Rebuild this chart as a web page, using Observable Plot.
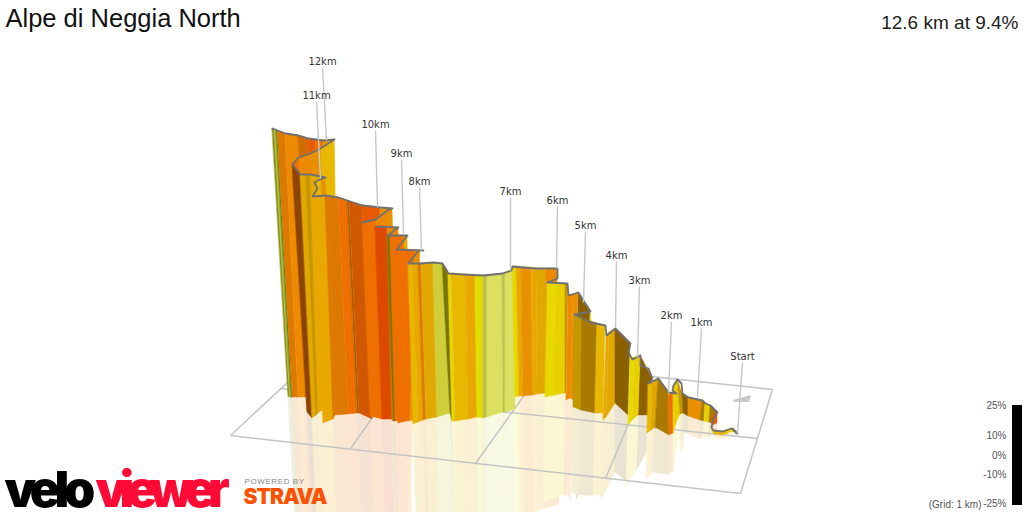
<!DOCTYPE html>
<html><head><meta charset="utf-8">
<style>html,body{margin:0;padding:0;background:#fff}svg{display:block}</style>
<script src="https://cdn.jsdelivr.net/npm/d3@7"></script>
<script src="https://cdn.jsdelivr.net/npm/@observablehq/plot@0.6"></script>
</head><body><div id="c"></div>
<script>
// Each station: top x, top y, base x, base y, gradient band to the next station
const farWall=[[272,128,288,396,"ol"],[274,129,289.5,397,"li"],[276,130,291,397,"gr"],[277,130,292,397,"o1"],[285,133,298,397,"o2"],[298,135,305,397,"o3"],[308,138,312,398,"o4"],[315,139,318,398,"o5"],[323,140,326,398,"o6"],[329,140,330,398,"y2"],[334,139,338,398]];
const foldWall=[[334,139,338,398,"y1"],[320,148,327,410,"o6"],[310,153,319,410,"o2"],[298,157,311,410,"o5"],[292,164,307,412]];
const backRun=[[362,205,372,416,"o4"],[380,207,385,418,"o6"],[392,208,398,418]];
const yellowRun=[[292,164,307,412,"br"],[300,174,312,418,"y3"],[306,174,316,415,"gd"],[310,174,318,413,"y6"],[316,176,322,410,"y1"],[321,176,330,412,"o6"],[325,177,333,412]];
const longRun=[[312,196,323,423,"y6"],[325,195,333,419,"o1"],[329,196,335,415,"o1"],[338,197,348,414,"o5"],[347,200,357,413,"am"],[349,201,359,413,"o8"],[362,205,372,419]];
const ridgeBack=[[375,219,382,419,"o2"],[387,210,392,419]];
const ridgeRun=[[362,222,370,416,"o5"],[375,219,382,419]];
const redRun2=[[375,226,382,419,"o7"],[387,226,392,419]];
const stepRun=[[387,227,392,420,"o2"],[398,227,404,421]];
const stepRun2=[[387,235,393,421,"ol2"],[390,235,395,421,"o5"],[404,235,407,421,"y6"],[407,235,410,421]];
const stepRun3=[[396,249,398,423,"o5"],[415,250,410,420,"o6"],[420,250,413,421]];
const plateau=[[408,263,413,424,"y1"],[413,263,418,422,"y6"],[418,263,423,420,"o1"],[421,263,426,419,"y3"],[433,262,437,417,"p1"],[442,263,450,413,"ol2"],[448,273,452,421,"y5"],[451,273,455,421,"y1"],[465,274,468,419,"y6"],[475,275,477,417,"y4"],[483,275,483,418,"p3"],[487,275,487,417,"p2"],[502,273,503,412,"p3"],[505,273,505,412,"p2"],[510,271,511,410,"p2"],[514,271,515,409]];
const sevenRun=[[512,266,515,397,"y5"],[516,266,519,396,"y6"],[521,267,523,396,"o6"],[531,267,533,395,"y6"],[536,268,537,394,"y3"],[546,268,546,393,"o2"],[557,268,558,391]];
const sixRun=[[547,282,545,397,"y5"],[557,283,555,395,"y2"],[565,283,565,393,"gd"],[568,284,566,392]];
const hollowRun=[[578,292,577,400,"dk"],[590,311,588,400,"y2"],[591,322,590,400]];
const fiveRun=[[568,295,566,400,"o2"],[573,294,570,398,"o6"],[578,292,574,400]];
const goldRun=[[574,314,573,407,"gd"],[582,318,581,410,"go"],[597,323,595,413,"y1"],[605,325,603,413]];
const climbRun=[[606,335,603,420,"y6"],[609,332,606,417,"y3"],[615,328,615,403]];
const darkRun=[[615,328,615,403,"dk"],[630,343,628,415]];
const darkRun2=[[640,355,638,415,"dk"],[652,378,650,415]];
const threeRun=[[630,358,628,425,"y5"],[634,357,632,420,"y2"],[640,355,638,415]];
const twoRun=[[648,383,647,433,"y1"],[652,381,651,430,"y3"],[658,378,655,427]];
const twoDark=[[658,378,655,427,"go"],[668,392,669,435]];
const redRun=[[668,395,669,435,"o5"],[673,392,673,433]];
const hookRun=[[673,390,673,433,"y2"],[677,393,677,420]];
const hookTop=[[673,385,677,420,"y2"],[677,379,680,414,"gd"],[682,393,683,413]];
const oneRun=[[682,393,683,413,"dk"],[688,397,688,416,"o6"],[702,400,700,420,"go"],[705,403,704,421,"y2"],[710,405,709,422,"go"],[717,412,714,424]];
const tailRun=[[712,416,712,425,"o4"],[717,412,717,423]];
const startRun=[[711,427,712,431,"y2"],[713,430,714,434,"y1"],[722,431,722,435,"y1"],[728,429,728,433,"y2"],[732,428,733,431,"ol2"],[737,433,737,434]];

const runs=[farWall,foldWall,backRun,yellowRun,longRun,ridgeBack,ridgeRun,redRun2,stepRun,stepRun2,stepRun3,plateau,sevenRun,sixRun,hollowRun,fiveRun,goldRun,climbRun,darkRun,darkRun2,threeRun,twoRun,twoDark,redRun,hookRun,hookTop,oneRun,tailRun,startRun];

const bandKeys=["ol","li","gr","br","am","dk","go","gd","ol2","o1","o2","o3","o4","o5","o6","o7","o8","y1","y2","y3","y5","y4","y6","p1","p2","p3"];
const bandColors=["#7f8a10","#b9bf3c","#3f7f10","#8b4500","#b06000","#8a6000","#a87a00","#c49600","#7a7400","#dd7800","#ee8a00","#d06c00","#e85a00","#ee7000","#e89000","#dc4a00","#d05800","#e8b800","#e8d000","#e0a800","#e8d800","#e0dd00","#e8a800","#cfce3a","#dce060","#c0c050"];

// The route's ridge, from the start to the summit; null breaks the line
const ridgeX=[737,732,728,722,713,711,713,717,710,705,702,688,682,681,677,673,672,676,668,658,648,652,648,640,640,632,628,630,615,606,605,590,574,590,583,578,568,567,547,557,557,535,512,511,502,483,463,448,442,433,420,408,418,423,396,407,387,398,376,null,362,375,387,392,380,362,347,338,325,312,317,314,317,325,310,300,292,298,310,320,334,323,315,308,298,285,277,272];
const ridgeY=[433,428,429,431,430,427,418,412,405,403,400,397,393,383,379,385,390,393,392,378,383,378,368,365,355,359,352,343,328,335,325,322,314,311,300,292,295,283,282,278,268,268,266,270,273,275,274,273,263,262,263,263,250,250,249,235,235,227,226,null,222,219,210,208,207,205,200,197,195,196,188,182,180,177,174,174,164,157,153,148,139,140,139,138,135,133,130,128];

const kmLabels=["12km","11km","10km","9km","8km","7km","6km","5km","4km","3km","2km","1km","Start"];
const labelX=[322,316,375,401,419,510,557,585,616,639,671,701,742];
const labelY=[61,95,124,153,181,191,200,225,255,280,315,322,356];
const pinX=[326,320,377,403,421,510,556,583,615,637,668,697,737];
const pinY=[140,178,207,233,250,270,268,302,327,357,392,397,433];

const gridFrom=[[230,435],[740,493],[772,389],[330,342],[280,388],[350,448],[475,463],[605,478]];
const gridTo=[[740,493],[772,389],[330,342],[230,435],[757,438],[420,350],[540,372],[648,376]];
const startMark=[[733,400,734,402],[751,395,749,402]];

const legendLabels=["25%","10%","0%","-10%","-25%"];
const legendY=[405,435,455,474,503];

const bands=[],reflect=[];
runs.forEach((run,r)=>run.forEach((s,i)=>{
  if(!s[4])return;
  [s,run[i+1]].forEach(p=>{
    bands.push({id:r+"-"+i,k:s[4],x1:p[0],y1:p[1],x2:p[2],y2:p[3]});
    reflect.push({id:r+"-"+i,k:s[4],x1:p[2],y1:p[3],x2:p[2]+(p[2]-p[0])*.9,y2:p[3]+(p[3]-p[1])*.92});
  });
}));
const ridge=ridgeX.map((x,i)=>({x,y:ridgeY[i]}));
const grid=gridFrom.map((a,i)=>({x1:a[0],y1:a[1],x2:gridTo[i][0],y2:gridTo[i][1]}));
const pins=kmLabels.map((t,i)=>({t,x:labelX[i],y:labelY[i],px:pinX[i],py:pinY[i]}));
const mark=startMark.map(m=>({x1:m[0],y1:m[1],x2:m[2],y2:m[3]}));
const F='"Liberation Sans",Arial,sans-serif';

const plot=Plot.plot({
  width:1024,height:512,margin:0,
  x:{domain:[0,1024],range:[0,1024],axis:null},
  y:{domain:[0,512],range:[0,512],axis:null},
  color:{domain:bandKeys,range:bandColors},
  style:{background:"#fff"},
  marks:[
    Plot.area(reflect,{x1:"x1",y1:"y1",x2:"x2",y2:"y2",z:"id",fill:"k",stroke:"k",strokeWidth:.4}),
    Plot.link(grid,{x1:"x1",y1:"y1",x2:"x2",y2:"y2",stroke:"#c4c4c4",strokeWidth:1.5}),
    Plot.area(mark,{x1:"x1",y1:"y1",x2:"x2",y2:"y2",fill:"#c8c8c8"}),
    Plot.area(bands,{x1:"x1",y1:"y1",x2:"x2",y2:"y2",z:"id",fill:"k",stroke:"k",strokeWidth:.4}),
    Plot.line(ridge,{x:"x",y:"y",stroke:"#707070",strokeWidth:1.8,curve:"linear"}),
    Plot.link(pins,{x1:"x",y1:d=>d.y+6,x2:"px",y2:"py",stroke:"#c8c8c8",strokeWidth:1.4}),
    Plot.text(pins,{x:"x",y:"y",text:"t",fontFamily:'"DejaVu Sans",Verdana,sans-serif',fontSize:10,fill:"#333"}),
    Plot.text(["Alpe di Neggia North"],{x:()=>5,y:()=>18,text:d=>d,textAnchor:"start",fontFamily:F,fontSize:25.5,fill:"#111"}),
    Plot.text(["12.6 km at 9.4%"],{x:()=>1018,y:()=>22,text:d=>d,textAnchor:"end",fontFamily:F,fontSize:19,fill:"#222"}),
    Plot.rect([0],{x1:()=>1012,x2:()=>1022,y1:()=>405,y2:()=>505,fill:"#000"}),
    Plot.text(legendLabels,{x:()=>1006,y:(d,i)=>legendY[i],text:d=>d,textAnchor:"end",fontFamily:F,fontSize:10,fill:"#555"}),
    Plot.text(["(Grid: 1 km)"],{x:()=>981,y:()=>504,text:d=>d,textAnchor:"end",fontFamily:F,fontSize:10,fill:"#555"}),
    Plot.text(["velo"],{x:()=>4,y:()=>490,text:d=>d,textAnchor:"start",fontFamily:"Inter,Lato,sans-serif",fontWeight:900,fontSize:50,fill:"#000"}),
    Plot.text(["viewer"],{x:()=>95,y:()=>490,text:d=>d,textAnchor:"start",fontFamily:"Inter,Lato,sans-serif",fontWeight:900,fontSize:50,fill:"#ff0a37"}),
    Plot.text(["POWERED BY"],{x:()=>244,y:()=>481,text:d=>d,textAnchor:"start",fontFamily:F,fontSize:8,fill:"#888"}),
    Plot.text(["STRAVA"],{x:()=>243,y:()=>497,text:d=>d,textAnchor:"start",fontFamily:"Inter,Lato,sans-serif",fontWeight:900,fontSize:21,fill:"#fc5200"})
  ]
});
// The reflection fades as one layer, so overlapping folds do not darken it
plot.querySelector('g[aria-label="area"]').setAttribute("opacity",.17);
const tracking={"velo":"-5.5px","viewer":"-7.5px","POWERED BY":".6px","STRAVA":"-1px"};
d3.select(plot).selectAll("text").each(function(){
  const w=tracking[this.textContent];
  if(w)this.style.letterSpacing=w;
});
document.getElementById("c").append(plot);
</script></body></html>
